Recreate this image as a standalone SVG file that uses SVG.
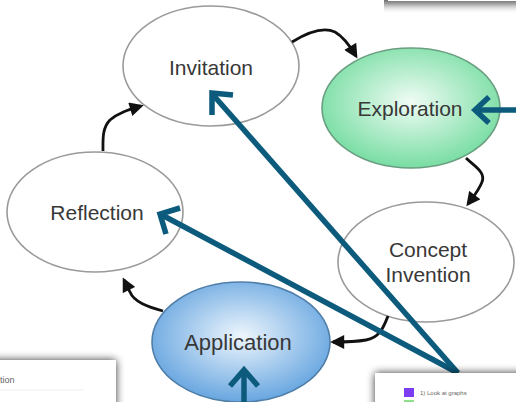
<svg xmlns="http://www.w3.org/2000/svg" width="516" height="402" viewBox="0 0 516 402">
<defs>
<style>
.lbl{font-family:"Liberation Sans",Arial,sans-serif;font-size:21px;fill:#383838;text-anchor:middle}
.plain{fill:#fff;stroke:#9a9a9a;stroke-width:1.6}
.blk{fill:none;stroke:#111;stroke-width:2.8;marker-end:url(#ah)}
.blue{fill:none;stroke:#0c5b7d;stroke-width:5.5}
.small{font-family:"Liberation Sans",Arial,sans-serif;fill:#666}
</style>
<radialGradient id="gGreen" cx="0.5" cy="0.45" r="0.55">
<stop offset="0" stop-color="#f0fcf5"/>
<stop offset="1" stop-color="#78dda3"/>
</radialGradient>
<radialGradient id="gBlue" cx="0.5" cy="0.45" r="0.55">
<stop offset="0" stop-color="#eef6fd"/>
<stop offset="1" stop-color="#68a6e0"/>
</radialGradient>
<linearGradient id="topShade" x1="0" y1="0" x2="0" y2="1">
<stop offset="0" stop-color="#6e6e6e"/>
<stop offset="0.3" stop-color="#a8a8a8"/>
<stop offset="1" stop-color="#ffffff" stop-opacity="0"/>
</linearGradient>
<marker id="ah" viewBox="0 0 10 10" refX="8" refY="5" markerWidth="15" markerHeight="14" markerUnits="userSpaceOnUse" orient="auto">
<path d="M0,0 L10,5 L0,10 z" fill="#111"/>
</marker>
<filter id="sh" x="-20%" y="-50%" width="140%" height="200%">
<feGaussianBlur in="SourceAlpha" stdDeviation="4"/>
<feComponentTransfer><feFuncA type="linear" slope="0.8"/></feComponentTransfer>
<feMerge><feMergeNode/><feMergeNode in="SourceGraphic"/></feMerge>
</filter>
</defs>
<rect width="516" height="402" fill="#fff"/>

<g id="topbox">
<rect x="384" y="0" width="132" height="14" fill="url(#topShade)"/>
<rect x="388" y="-10" width="128" height="11" fill="#fff"/>
</g>

<g id="invitation">
<ellipse class="plain" cx="211" cy="66" rx="88" ry="60"/>
<text class="lbl" x="211" y="75">Invitation</text>
</g>
<g id="exploration">
<ellipse cx="411" cy="108" rx="89" ry="60" fill="url(#gGreen)" stroke="#6a9e80" stroke-width="1.6"/>
<text class="lbl" x="410" y="116">Exploration</text>
</g>
<g id="concept">
<ellipse class="plain" cx="426" cy="262" rx="88" ry="60"/>
<text class="lbl" x="428" y="257">Concept</text>
<text class="lbl" x="428" y="282">Invention</text>
</g>
<g id="application">
<ellipse cx="241" cy="342" rx="89" ry="60" fill="url(#gBlue)" stroke="#4f7ea8" stroke-width="1.6"/>
<text class="lbl" x="238" y="350" style="font-size:22px">Application</text>
</g>
<g id="reflection">
<ellipse class="plain" cx="95" cy="212" rx="88" ry="60"/>
<text class="lbl" x="97" y="220">Reflection</text>
</g>

<g id="connectors">
<path class="blk" d="M292,42 C305,34 322,26 335,32 C344,37 350,46 356,56"/>
<path class="blk" d="M466,158 C474,166 486,172 482,182 C479,190 474,196 468,204"/>
<path class="blk" d="M388,316 C384,326 380,338 366,340 C355,342 345,342 333,342"/>
<path class="blk" d="M163,311 C148,307 134,302 130,292 C127,287 126,284 124,280"/>
<path class="blk" d="M103,151 C103,140 102,128 110,120 C118,113 128,110 141,106"/>

<path class="blue" d="M458,373 L214,96"/>
<polyline class="blue" points="233,95 212,93 212,115"/>
<path class="blue" d="M458,373 L162,215"/>
<polyline class="blue" points="180,208 160,214 166,234"/>
<path class="blue" d="M516,110 L476,110"/>
<polyline class="blue" points="489,97 475,110 489,123"/>
<path class="blue" d="M244,402 L244,372"/>
<polyline class="blue" points="230,386 244,370 258,386"/>
</g>

<g id="leftbox">
<rect x="-20" y="360" width="136" height="60" fill="#fff" filter="url(#sh)"/>
<text class="small" x="0" y="383" font-size="9">tion</text>
<line x1="0" y1="390" x2="84" y2="390" stroke="#eee" stroke-width="1"/>
</g>
<g id="rightbox">
<rect x="375" y="373" width="160" height="50" fill="#fff" filter="url(#sh)"/>
<rect x="404" y="388" width="10" height="9" fill="#7b3cf2"/>
<text class="small" x="420" y="395" font-size="6">1) Look at graphs</text>
<rect x="404" y="400" width="10" height="9" fill="#8fe08a"/>
</g>
</svg>
